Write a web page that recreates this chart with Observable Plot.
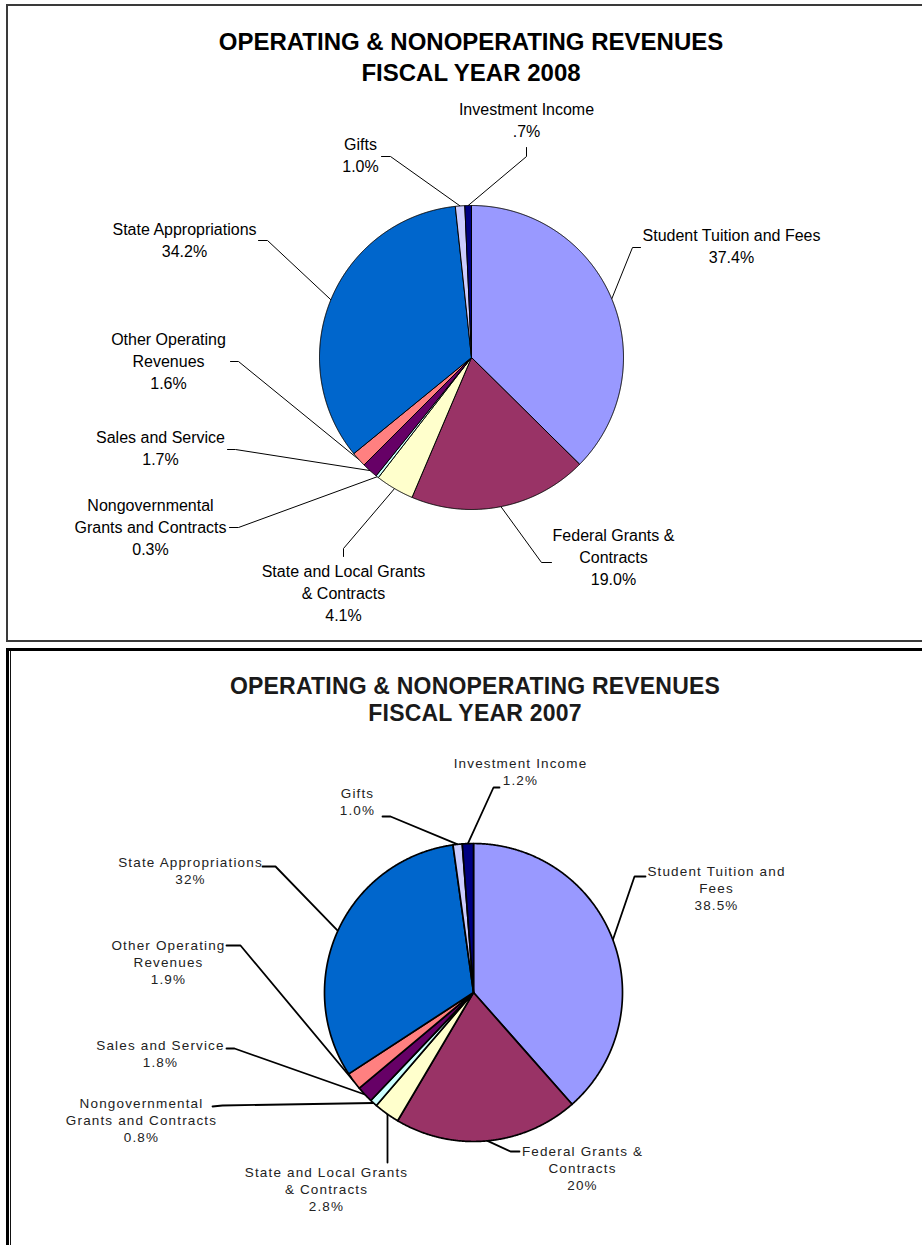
<!DOCTYPE html>
<html><head><meta charset="utf-8">
<script src="https://cdn.jsdelivr.net/npm/d3@7"></script>
<script src="https://cdn.jsdelivr.net/npm/@observablehq/plot@0.6"></script>
<style>
html,body{margin:0;padding:0;background:#fff;}
body{width:922px;height:1245px;overflow:hidden;position:relative;font-family:"Liberation Sans",Arial,sans-serif;}
.box1{position:absolute;left:6px;top:4px;width:1000px;height:634px;border:2px solid #3a3a3a;}
.box2{position:absolute;left:6px;top:648px;width:1000px;height:700px;border-top:3px solid #000;border-left:3px solid #000;}
.box2 .inner{position:absolute;left:1px;top:0;bottom:0;border-left:1.5px solid #111;}
.title{position:absolute;text-align:center;font-weight:bold;white-space:nowrap;}
.chart{position:absolute;}
</style></head><body>
<div class="box1"></div>
<div class="box2"><div class="inner"></div></div>
<div class="title" id="t1" style="left:0;width:942px;top:26px;font-size:24px;line-height:31px;color:#000;">OPERATING &amp; NONOPERATING REVENUES<br>FISCAL YEAR 2008</div>
<div class="title" id="t2" style="left:0;width:950px;top:673px;font-size:23px;line-height:27px;letter-spacing:0.2px;color:#1a1a1a;">OPERATING &amp; NONOPERATING REVENUES<br>FISCAL YEAR 2007</div>
<div class="chart" id="c1"></div>
<div class="chart" id="c2"></div>
<script>
// ---------- data ----------
const categories = ["Student Tuition and Fees","Federal Grants & Contracts","State and Local Grants & Contracts","Nongovernmental Grants and Contracts","Sales and Service","Other Operating Revenues","State Appropriations","Gifts","Investment Income"];
const sliceColors = ["#9999FF","#993366","#FFFFCC","#CCFFFF","#660066","#FF8080","#0066CC","#CCCCFF","#000080"];

const values2008 = [37.4, 19.0, 4.1, 0.3, 1.7, 1.6, 34.2, 1.0, 0.7];
const pctLabels2008 = ["37.4%","19.0%","4.1%","0.3%","1.7%","1.6%","34.2%","1.0%",".7%"];
const nameLines2008 = [["Student Tuition and Fees"],["Federal Grants &","Contracts"],["State and Local Grants","& Contracts"],["Nongovernmental","Grants and Contracts"],["Sales and Service"],["Other Operating","Revenues"],["State Appropriations"],["Gifts"],["Investment Income"]];

const values2007 = [38.5, 20, 2.8, 0.8, 1.8, 1.9, 32, 1.0, 1.2];
const pctLabels2007 = ["38.5%","20%","2.8%","0.8%","1.8%","1.9%","32%","1.0%","1.2%"];
const nameLines2007 = [["Student Tuition and","Fees"],["Federal Grants &","Contracts"],["State and Local Grants","& Contracts"],["Nongovernmental","Grants and Contracts"],["Sales and Service"],["Other Operating","Revenues"],["State Appropriations"],["Gifts"],["Investment Income"]];

// ---------- layout (page pixel coordinates) ----------
const layout2008 = {
  ox: 8, oy: 92, W: 914, H: 548, cx: 471, cy: 357, r: 152,
  fontSize: 16, lineHeight: 22, letterSpacing: 0, textColor: "#000", pieStroke: 1, leaderStroke: 1,
  labelPos: [[731,244],[613,555],[343,591],[150,525],[160,446],[168,359],[184,238],[360,153],[526,118]],
  leaders: [[[640,247],[632,247]],[[551,562],[541,562]],[[343,556],[343,548]],[[229,527],[238,527]],[[227,449],[235,449]],[[230,361],[238,361]],[[258,240],[267,240]],[[381,156],[390,156]],[[526,147],[526,156]]]
};
const layout2007 = {
  ox: 10, oy: 735, W: 912, H: 510, cx: 473, cy: 992, r: 149,
  fontSize: 13.5, lineHeight: 17, letterSpacing: 1.15, textColor: "#222", pieStroke: 1.7, leaderStroke: 1.8,
  labelPos: [[716,887],[582,1167],[326,1188],[141,1119],[160,1053],[168,961],[190,870],[357,801],[520,771]],
  leaders: [[[645,876],[634,876]],[[519,1151],[510,1151]],[[387,1162],[387,1098]],[[212,1106],[222,1105]],[[226,1048],[234,1048]],[[226,945],[240,945]],[[262,866],[275,866]],[[382,816],[390,816]],[[499,787],[493,787]]]
};

function drawPie(values, pcts, nameLines, L) {
  const arcs = d3.pie().sort(null).value(d => d)(values);
  const pt = (a, rr) => ({x: L.cx + rr * Math.sin(a), y: L.cy - rr * Math.cos(a)});
  const marks = [];
  // leader lines (under slices)
  const leaderPts = [];
  arcs.forEach((a, i) => {
    const mid = (a.startAngle + a.endAngle) / 2;
    const e = pt(mid, L.r);
    L.leaders[i].forEach(p => leaderPts.push({k: i, x: p[0], y: p[1]}));
    leaderPts.push({k: i, x: e.x, y: e.y});
  });
  marks.push(Plot.line(leaderPts, {x: "x", y: "y", z: "k", stroke: "#000", strokeWidth: L.leaderStroke, curve: "linear", strokeLinejoin: "miter"}));
  // slices
  arcs.forEach((a, i) => {
    const n = Math.max(2, Math.ceil((a.endAngle - a.startAngle) / (Math.PI / 720)));
    const pts = [{x: L.cx, y: L.cy}];
    for (let j = 0; j <= n; j++) pts.push(pt(a.startAngle + (a.endAngle - a.startAngle) * j / n, L.r));
    pts.push({x: L.cx, y: L.cy});
    marks.push(Plot.line(pts, {x: "x", y: "y", fill: sliceColors[i], stroke: "#000", strokeWidth: L.pieStroke, curve: "linear", strokeLinejoin: "round"}));
  });
  // labels
  const labs = categories.map((c, i) => ({text: nameLines[i].concat([pcts[i]]).join("\n"), x: L.labelPos[i][0], y: L.labelPos[i][1]}));
  marks.push(Plot.text(labs, {x: "x", y: "y", text: "text", fontSize: L.fontSize, lineHeight: L.lineHeight / L.fontSize, fontFamily: "Liberation Sans, Arial, sans-serif", fill: L.textColor, textAnchor: "middle", lineAnchor: "middle"}));
  const svg = Plot.plot({
    width: L.W, height: L.H, margin: 0,
    x: {domain: [L.ox, L.ox + L.W], axis: null},
    y: {domain: [L.oy, L.oy + L.H], reverse: true, axis: null},
    style: {background: "transparent", overflow: "visible"},
    marks
  });
  if (L.letterSpacing) svg.querySelectorAll("text").forEach(t => t.setAttribute("letter-spacing", L.letterSpacing));
  return svg;
}

const c1 = document.getElementById("c1");
c1.style.left = layout2008.ox + "px"; c1.style.top = layout2008.oy + "px";
c1.appendChild(drawPie(values2008, pctLabels2008, nameLines2008, layout2008));
const c2 = document.getElementById("c2");
c2.style.left = layout2007.ox + "px"; c2.style.top = layout2007.oy + "px";
c2.appendChild(drawPie(values2007, pctLabels2007, nameLines2007, layout2007));
</script>
</body></html>
